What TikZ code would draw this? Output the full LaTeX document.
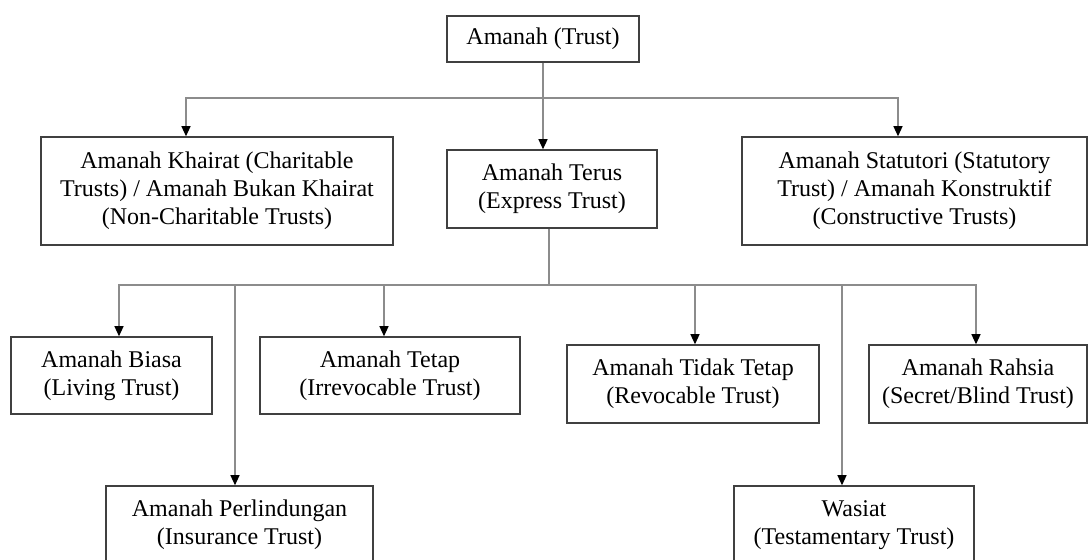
\documentclass[tikz,border=0pt]{standalone}
\usepackage{fontspec}
\setmainfont{Liberation Serif}
\usetikzlibrary{arrows.meta,positioning,calc}

\tikzset{
    trustbox/.style={draw=black!75, line width=0.75pt, align=center, inner sep=0pt,
        font=\fontsize{12}{14}\selectfont},
    link/.style={draw=black!45, line width=0.55pt},
    linkarrow/.style={link, -{Triangle[length=5pt,width=4.5pt,color=black]}}
}

\begin{document}
\begin{tikzpicture}[x=0.5pt, y=-0.5pt]
    \clip (0,0) rectangle (1088,560);
    % Level 1
    \node[trustbox, minimum width=96pt, minimum height=23pt] (trust) at (543,39) {Amanah (Trust)};
    % Level 2
    \node[trustbox, minimum width=176pt, minimum height=54pt] (khairat) at (217,191)
        {Amanah Khairat (Charitable\\Trusts) / Amanah Bukan Khairat\\(Non-Charitable Trusts)};
    \node[trustbox, minimum width=105pt, minimum height=39pt] (terus) at (552,189)
        {Amanah Terus\\(Express Trust)};
    \node[trustbox, minimum width=172.5pt, minimum height=54pt] (statutori) at (914.5,191)
        {Amanah Statutori (Statutory\\Trust) / Amanah Konstruktif\\(Constructive Trusts)};
    % Level 3
    \node[trustbox, minimum width=100.5pt, minimum height=38.5pt] (biasa) at (111.5,375.5)
        {Amanah Biasa\\(Living Trust)};
    \node[trustbox, minimum width=130pt, minimum height=38.5pt] (tetap) at (390,375.5)
        {Amanah Tetap\\(Irrevocable Trust)};
    \node[trustbox, minimum width=126pt, minimum height=39pt] (tidak) at (693,384)
        {Amanah Tidak Tetap\\(Revocable Trust)};
    \node[trustbox, minimum width=109pt, minimum height=39pt] (rahsia) at (978,384)
        {Amanah Rahsia\\(Secret/Blind Trust)};
    % Level 4
    \node[trustbox, minimum width=133.5pt, minimum height=39pt] (perlin) at (239.5,525)
        {Amanah Perlindungan\\(Insurance Trust)};
    \node[trustbox, minimum width=120pt, minimum height=39pt] (wasiat) at (854,525)
        {Wasiat\\(Testamentary Trust)};

    % connectors
    \coordinate (topy) at (0,98);
    \coordinate (lowy) at (0,285);
    \coordinate (topbus) at (trust.south |- topy);
    \coordinate (lowbus) at ([xshift=-1.5pt]terus.south |- lowy);

    \draw[linkarrow] (trust.south) -- (trust.south |- terus.north);
    \draw[linkarrow] (topbus) -| ([xshift=-15.5pt]khairat.north);
    \draw[linkarrow] (topbus) -| ([xshift=-8.25pt]statutori.north);

    \draw[link] ([xshift=-1.5pt]terus.south) -- (lowbus);
    \foreach \nd/\dx in {biasa/3.75pt, tetap/-3pt, tidak/1pt, rahsia/-1pt, perlin/-2.25pt, wasiat/-6pt}
        \draw[linkarrow] (lowbus) -| ([xshift=\dx]\nd.north);
\end{tikzpicture}
\end{document}
